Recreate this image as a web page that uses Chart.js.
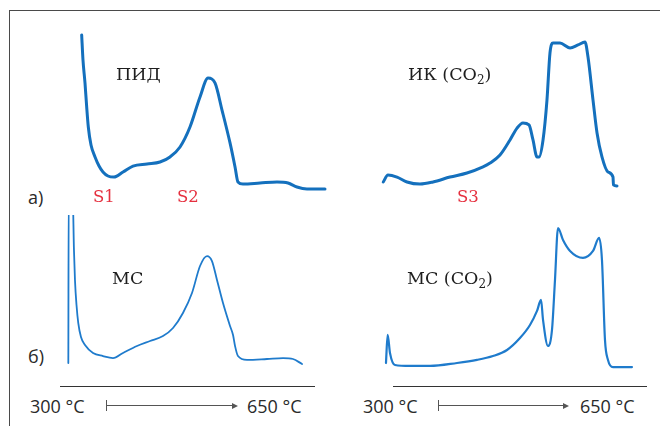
<!DOCTYPE html>
<html><head><meta charset="utf-8">
<script src="https://cdn.jsdelivr.net/npm/chart.js"></script>
<style>
html,body{margin:0;padding:0;background:#fff;}
body{width:660px;height:426px;position:relative;overflow:hidden;}
.frame{position:absolute;left:9px;top:10px;width:660px;height:430px;border-top:1.5px solid #4a4a4a;border-left:1.5px solid #4a4a4a;}
canvas{position:absolute;}
.t{position:absolute;white-space:nowrap;line-height:1;}
.serif{font-family:"DejaVu Serif","Liberation Serif",serif;font-size:17.5px;color:#1e1e1e;}
.sans{font-family:"Open Sans","Noto Sans",sans-serif;font-size:18px;color:#2a2a2a;}
.red{font-family:"DejaVu Serif","Liberation Serif",serif;font-size:16.5px;color:#e5303f;}
.hl{position:absolute;height:1px;background:#333;}
.vl{position:absolute;width:1px;background:#555;}
.ah{position:absolute;width:0;height:0;border-top:3px solid transparent;border-bottom:3px solid transparent;border-left:6px solid #555;}
</style></head>
<body>
<div class="frame"></div>
<canvas id="c1" width="270" height="175" style="left:60px;top:25px"></canvas>
<canvas id="c2" width="270" height="175" style="left:370px;top:25px"></canvas>
<canvas id="c3" width="270" height="155" style="left:60px;top:215px"></canvas>
<canvas id="c4" width="270" height="155" style="left:370px;top:215px"></canvas>

<div class="t serif" style="left:116px;top:66px">ПИД</div>
<div class="t serif" style="left:408px;top:66px">ИК (CO<sub style="font-size:12px;vertical-align:-4px">2</sub>)</div>
<div class="t serif" style="left:112px;top:270px">МС</div>
<div class="t serif" style="left:407px;top:270px">МС (CO<sub style="font-size:12px;vertical-align:-4px">2</sub>)</div>

<div class="t sans" style="left:28px;top:188px">а)</div>
<div class="t sans" style="left:28px;top:347px">б)</div>
<div class="t red" style="left:93px;top:189px">S1</div>
<div class="t red" style="left:177px;top:189px">S2</div>
<div class="t red" style="left:457px;top:189px">S3</div>

<div class="hl" style="left:60px;top:386px;width:255px"></div>
<div class="hl" style="left:393px;top:386px;width:254px"></div>

<div class="t sans" style="left:30px;top:397px">300 °C</div>
<div class="vl" style="left:106px;top:400px;height:11px"></div>
<div class="hl" style="left:107px;top:405px;width:126px;background:#555"></div>
<div class="ah" style="left:232px;top:402.5px"></div>
<div class="t sans" style="left:247px;top:397px">650 °C</div>

<div class="t sans" style="left:363px;top:397px">300 °C</div>
<div class="vl" style="left:438px;top:400px;height:11px"></div>
<div class="hl" style="left:439px;top:405px;width:125px;background:#555"></div>
<div class="ah" style="left:563px;top:402.5px"></div>
<div class="t sans" style="left:580px;top:397px">650 °C</div>

<script>
// temperature (°C) and relative signal (0-100) for each trace
const pidT = [328.1,329.8,332.4,334.4,336.7,340.2,345.4,350.6,355.7,362.2,370,381.7,394.6,412.8,429.6,442.6,455.6,468.5,481.5,491.9,500.9,510,520.4,526.9,530.7,537.2,559.3,581.3,595.6,607.2,620.2,643.5];
const pidY = [94.3,80,66.9,54.3,41.7,31.4,24.6,19.4,16.0,13.7,13.1,16.0,19.4,20.6,21.7,24.6,30.3,41.7,58.9,69.7,66.9,51.4,32.6,18.9,10.3,9.1,9.7,10.3,9.7,7.4,6.3,6.3];

const irT = [317.2,323.3,335,348,364.8,381.7,403.7,425.7,446.5,455.6,468.5,481.5,490.6,498.3,506.1,511.3,516.5,519.1,524.3,529.4,533.3,537.2,546.3,559.3,569.6,578.7,582.6,589.1,594.3,600.7,608.5,615,615.6,620.2];
const irY = [10.3,14.3,13.1,10.3,9.1,10.3,13.1,15.4,18.9,21.1,25.7,34.3,41.1,44,42.9,34.3,24.6,24.6,34.3,57.1,84,89.7,89.7,86.9,88.6,90.3,81.7,57.1,38.3,24.6,16,13.1,8.6,8];

const msT = [310.8,311.3,316.3,318.1,319.4,321.4,323.7,327.2,332.4,342.8,355.7,368.7,381.7,399.8,416.7,433.5,446.5,459.4,471.1,481.5,490.6,497,503.5,511.3,520.4,524.3,526.9,530.7,542.4,568.3,589.1,602,613.7];
const msY = [4.5,115,115,77.4,58.1,41.9,30.3,21.3,16.1,11,9,7.7,11,15.5,18.7,21.9,27.1,36.8,49.7,67.1,73.5,70.3,58.1,43.2,28.4,22.6,15.5,9,6.5,7.1,7.7,7.1,3.9];

const msCoT = [320.7,322.9,325.9,332.4,351.9,377.8,412.8,438.7,459.4,477.6,494.4,507.4,516.5,521.7,524.3,530.7,535.9,539.8,543.7,550.2,559.3,576.1,589.1,596.9,600.7,604.6,608.5,615,639.6];
const msCoY = [4.5,22.6,11,3.2,2.6,2.6,4.5,6.5,9,12.9,20.6,29,38.1,45.2,32.3,15.5,25.8,58.1,91.6,83.9,76.8,72.3,76.8,85.2,71,19.4,6.5,1.9,1.9];

function pts(xs, ys){ return xs.map((x,i)=>({x:x,y:ys[i]})); }

function draw(id, xs, ys, color, width){
  new Chart(document.getElementById(id), {
    type:'line',
    data:{datasets:[{data:pts(xs,ys),borderColor:color,borderWidth:width,pointRadius:0,fill:false,cubicInterpolationMode:'monotone',borderCapStyle:'round',borderJoinStyle:'round'}]},
    options:{
      responsive:false, animation:false,
      layout:{padding:0},
      plugins:{legend:{display:false},tooltip:{enabled:false}},
      scales:{
        x:{type:'linear',min:300,max:650,display:false},
        y:{min:0,max:100,display:false}
      }
    }
  });
}
draw('c1', pidT, pidY, '#1470bd', 3);
draw('c2', irT, irY, '#1470bd', 3);
draw('c3', msT, msY, '#1f7bcc', 1.8);
draw('c4', msCoT, msCoY, '#1f7bcc', 2.2);
</script>
</body></html>
